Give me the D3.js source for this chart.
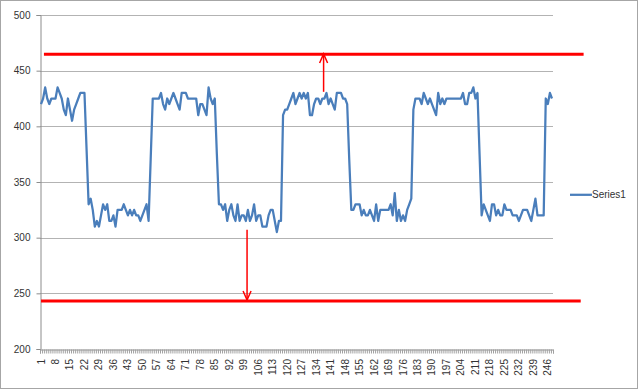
<!DOCTYPE html>
<html><head><meta charset="utf-8">
<script src="https://cdn.jsdelivr.net/npm/d3@7"></script>
<style>html,body{margin:0;padding:0;background:#fff}svg{display:block}</style>
</head><body>
<script>
const series1 = [
420,425,435,425,420,425,425,425,435,430,425,415,410,425,415,405,415,420,425,430,430,430,
380,
330,335,325,310,315,310,320,330,325,330,315,315,320,310,325,325,325,330,325,320,325,320,325,320,320,315,320,325,330,315,
370,
425,425,425,425,430,420,415,425,
420,425,430,425,420,415,430,430,430,425,425,425,425,425,410,420,420,415,410,435,425,420,425,
375,
330,330,325,330,315,325,330,320,315,330,315,320,320,315,325,315,320,330,315,320,320,310,310,310,320,325,325,315,305,315,315,
410,415,415,420,425,430,420,
425,430,425,430,425,430,410,410,420,425,425,420,425,425,430,420,425,420,415,430,430,430,425,425,420,
370,
325,325,330,330,330,320,325,320,320,325,320,315,330,315,325,325,325,325,325,330,320,340,315,325,315,320,315,325,330,335,
415,
425,425,425,420,430,
425,420,425,420,415,410,430,420,425,420,425,425,425,425,425,425,425,425,430,420,420,430,430,435,425,430,
375,
320,330,325,320,315,330,330,320,325,320,320,330,325,325,325,320,320,320,315,320,325,325,325,320,315,325,335,320,320,320,320,
425,420,430,425
];
const categories = series1.map((_, i) => i + 1);
const xTickLabels = [1,8,15,22,29,36,43,50,57,64,71,78,85,92,99,106,113,120,127,134,141,148,155,162,169,176,183,190,197,204,211,218,225,232,239,246];
const yTicks = [200,250,300,350,400,450,500];
const seriesName = "Series1";
// annotation lines (value, from-category, to-category) and arrows (category, from value, to value)
const limitLines = [
  {value: 464.7, from: 1.9, to: 262.8},
  {value: 243.1, from: 0.5, to: 261.4}
];
const arrows = [
  {cat: 137.1, from: 431, to: 465},
  {cat: 100.1, from: 307, to: 244}
];

const W = 640, H = 391;
const L = 40, R = 553, T = 15, B = 349;
const svg = d3.select("body").append("svg").attr("width", W).attr("height", H);
svg.append("rect").attr("x",0.5).attr("y",0.5).attr("width",637).attr("height",388)
  .attr("fill","#fff").attr("stroke","#a6a6a6");

const xLin = d3.scaleLinear().domain([0, categories.length]).range([L, R]);
const xBand = d3.scaleBand().domain(categories).range([L, R]);
const y = d3.scaleLinear().domain([200, 500]).range([B, T]);

// gridlines
svg.append("g").selectAll("line").data(yTicks.filter(v => v > 200)).join("line")
  .attr("x1", L).attr("x2", R).attr("y1", d => Math.round(y(d)) + 0.5).attr("y2", d => Math.round(y(d)) + 0.5)
  .attr("stroke", "#b3b3b3").attr("stroke-width", 1);

// y axis
const ya = svg.append("g").attr("transform", `translate(${L+0.5},0)`)
  .call(d3.axisLeft(y).tickValues(yTicks).tickSize(4).tickPadding(6));
ya.select(".domain").attr("stroke", "#8c8c8c");
ya.selectAll(".tick line").attr("stroke", "#8c8c8c");
ya.selectAll("text").attr("font-family", "Liberation Sans, Arial, sans-serif").attr("font-size", 10).attr("fill", "#333");

// x axis tick marks
const xt = svg.append("g").attr("transform", `translate(0,${B+0.5})`)
  .call(d3.axisBottom(xLin).tickValues(d3.range(0, categories.length + 1)).tickSize(4).tickFormat(""));
xt.select(".domain").attr("stroke", "#8c8c8c");
xt.selectAll(".tick line").attr("stroke", "#a0a0a0");

// x axis labels
const xl = svg.append("g").attr("transform", `translate(0,${B})`)
  .call(d3.axisBottom(xBand).tickValues(xTickLabels).tickSize(0).tickPadding(0));
xl.select(".domain").remove();
xl.selectAll("text")
  .attr("font-family", "Liberation Sans, Arial, sans-serif").attr("font-size", 10).attr("fill", "#333")
  .attr("text-anchor", "end").attr("dy", "0.35em")
  .attr("transform", "translate(0,10) rotate(-90)").attr("x", 0).attr("y", 0);

// series line
const line = d3.line().x((d, i) => xBand(categories[i]) + xBand.bandwidth() / 2).y(d => y(d));
svg.append("path").datum(series1).attr("d", line)
  .attr("fill", "none").attr("stroke", "#4a7ebb").attr("stroke-width", 2.25).attr("stroke-linejoin", "round");

// red limit lines
svg.append("g").selectAll("line").data(limitLines).join("line")
  .attr("x1", d => xLin(d.from)).attr("x2", d => xLin(d.to))
  .attr("y1", d => y(d.value)).attr("y2", d => y(d.value))
  .attr("stroke", "#ff0000").attr("stroke-width", 3);

// arrows
const ag = svg.append("g").attr("stroke", "#ff0000").attr("stroke-width", 1.5).attr("fill", "none");
arrows.forEach(a => {
  const x = xLin(a.cat), y1 = y(a.from), y2 = y(a.to);
  const dir = y2 < y1 ? 1 : -1;
  ag.append("line").attr("x1", x).attr("x2", x).attr("y1", y1).attr("y2", y2);
  ag.append("path").attr("d", `M${x-4},${y2 + dir*9} L${x},${y2} L${x+4},${y2 + dir*9}`);
});

// legend
const lg = svg.append("g");
lg.append("line").attr("x1", 570).attr("x2", 592).attr("y1", y(338.5)).attr("y2", y(338.5))
  .attr("stroke", "#4a7ebb").attr("stroke-width", 2.25);
lg.append("text").attr("x", 592).attr("y", y(338.5)).attr("dy", "0.35em")
  .attr("font-family", "Liberation Sans, Arial, sans-serif").attr("font-size", 10).attr("fill", "#333")
  .text(seriesName);
</script>
</body></html>
